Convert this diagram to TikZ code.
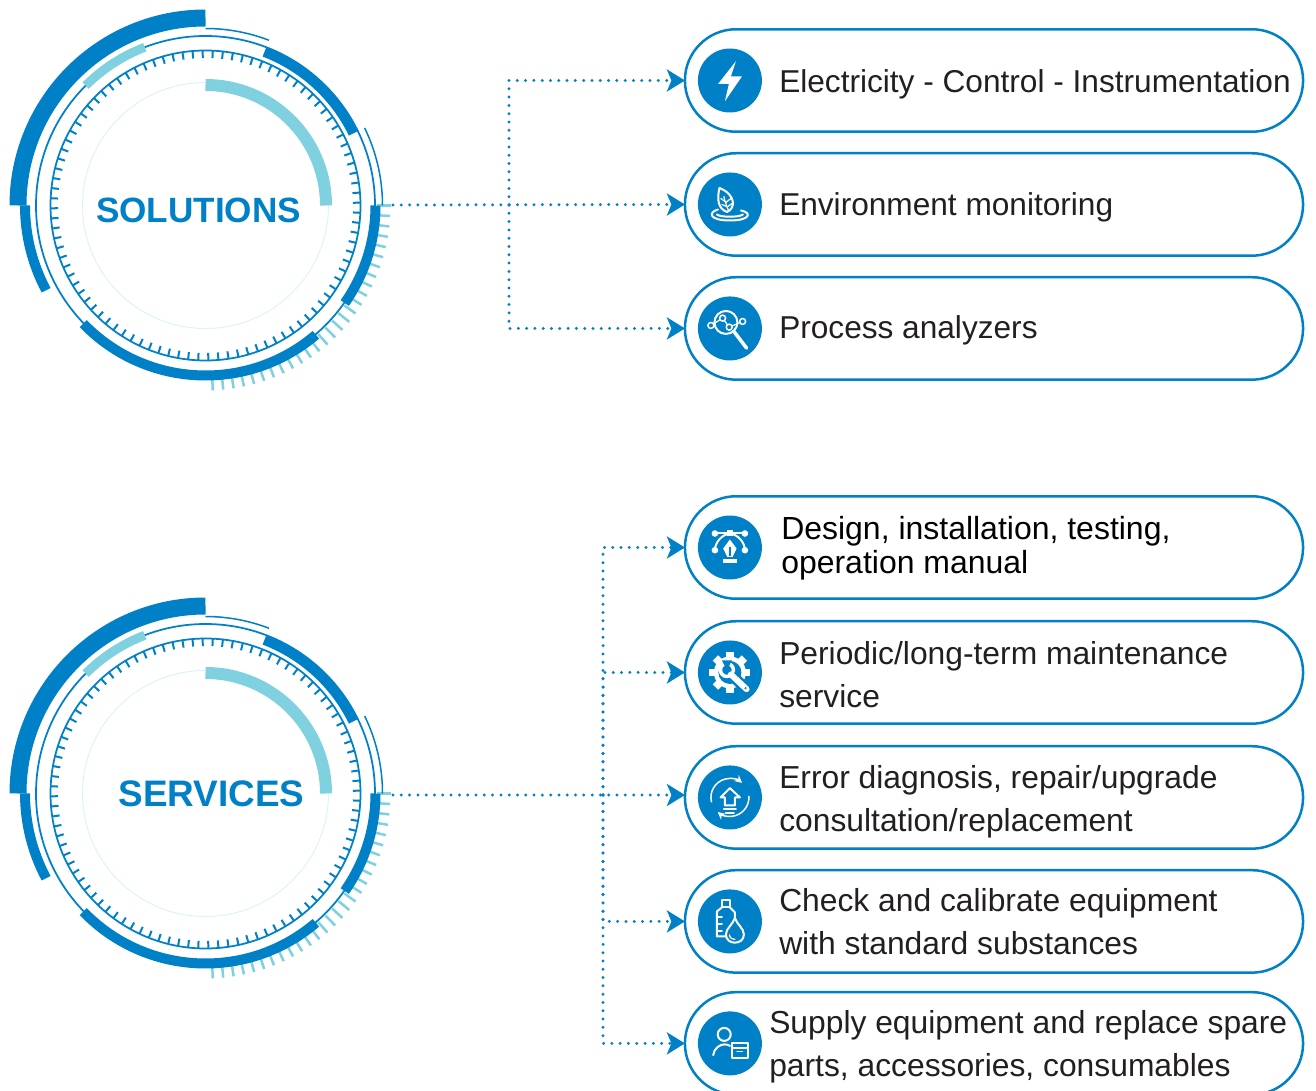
\documentclass[tikz,border=0pt]{standalone}
\usepackage{fontspec}
\setmainfont{Liberation Sans}
\usetikzlibrary{shapes.misc, arrows.meta, positioning}
\definecolor{dialBlue}{HTML}{0080C6}
\definecolor{dialLight}{HTML}{7FD1E0}
\definecolor{dialFaint}{HTML}{DDF3F6}
\definecolor{pillInk}{HTML}{231F20}
\tikzset{
    pill/.style={rounded rectangle, draw=dialBlue, line width=0.05cm, minimum width=12.6cm, minimum height=2.05cm, outer sep=0pt},
    iconDisc/.style={circle, fill=dialBlue, minimum size=1.28cm, inner sep=0pt, outer sep=0pt},
    pillText/.style={inner sep=0pt, align=left, text=pillInk, font=\fontsize{18}{24.5}\selectfont},
    longText/.style={pillText, font=\fontsize{18.1}{24.5}\selectfont},
    dialText/.style={text=dialBlue, font=\bfseries\fontsize{20}{24}\selectfont},
    link/.style={draw=dialBlue, line width=0.065cm, line cap=round, dash pattern=on 0pt off 0.166cm},
    linkTip/.style={link, -{Stealth[length=0.36cm, width=0.44cm, inset=0.09cm]}},
    iconLine/.style={draw=white, line width=0.04cm, line cap=round, line join=round},
    % the round gauge
    dial/.pic={
        \foreach \a in {0,...,27}
            \draw [dialLight, line width=0.05cm] ({-\a*3.25}:171) -- ({-\a*3.25}:185);
        \draw [dialFaint, line width=0.02cm] (0,0) circle (123);
        \draw [dialLight, line width=0.24cm] (0:120.5) arc[start angle=0, end angle=90, radius=120.5];
        \draw [dialBlue, line width=0.035cm] (0,0) circle (155);
        \foreach \a in {0,...,95}
            \draw [dialBlue, line width=0.04cm] ({87.3+\a*3.75}:147.5) -- ({87.3+\a*3.75}:155);
        \draw [dialBlue, line width=0.035cm] (0,0) circle (169.5);
        \draw [dialBlue, line width=0.34cm] (90:187.5) arc[start angle=90, end angle=180, radius=187.5];
        \draw [dialBlue, line width=0.03cm] (90:177) arc[start angle=90, end angle=69, radius=177];
        \draw [dialBlue, line width=0.03cm] (26:177) arc[start angle=26, end angle=0, radius=177];
        \draw [dialBlue, line width=0.2cm] (180:180.5) arc[start angle=180, end angle=208, radius=180.5];
        \draw [dialBlue, line width=0.2cm] (69:164.5) arc[start angle=69, end angle=26, radius=164.5];
        \draw [dialBlue, line width=0.2cm] (0:170) arc[start angle=0, end angle=-35, radius=170];
        \draw [dialBlue, line width=0.2cm] (224:170) arc[start angle=224, end angle=310.5, radius=170];
        \draw [dialLight, line width=0.18cm] (111:169.5) arc[start angle=111, end angle=135, radius=169.5];
    },
    % the small white drawings
    boltIcon/.pic={
        \fill [white] (6,19.3) -- (-11.7,-3.3) -- (-1,-3.3) -- (-5,-20.7) -- (12,4) -- (1,4) -- cycle;
    },
    leafIcon/.pic={
        \draw [iconLine] (-10.5,16.5) .. controls (-13,5) and (-12,-4) .. (-3,-7.5) .. controls (6,-4) and (6,10) .. cycle;
        \draw [iconLine, line width=0.025cm] (-6,8) .. controls (-5,2) and (-3,-2) .. (-1,-7);
        \draw [iconLine, line width=0.025cm] (-4,2) -- (1,6) (-2,-2) -- (2,1) (-5,3) -- (-9,6) (-3.5,-2) -- (-8,0);
        \draw [iconLine] (-12,-5) .. controls (-22,-8) and (-21,-16) .. (0,-16) .. controls (21,-16) and (22,-8) .. (11,-6);
        \draw [iconLine] (-13,-10) .. controls (-10,-13) and (10,-13) .. (13,-10);
    },
    lensIcon/.pic={
        \draw [iconLine] (-4,6) circle (11.5);
        \draw [iconLine, line width=0.07cm] (4,-3) -- (16.7,-19.7);
        \draw [iconLine, line width=0.025cm] (-19,3) -- (-7.3,10.3) -- (-0.7,1.3) -- (12.7,7);
        \foreach \p in {(-19,3),(-7.3,10.3),(-0.7,1.3),(12.7,7)}
            \draw [iconLine, fill=dialBlue, line width=0.03cm] \p circle (3);
    },
    penIcon/.pic={
        \draw [iconLine] (-15,14) -- (15,14);
        \draw [iconLine] (-15,-2.7) .. controls (-15,5) and (-8,13) .. (0,14) .. controls (8,13) and (15,5) .. (15,-2.7);
        \fill [white] (-3,11) rectangle (3,17);
        \foreach \p in {(-15,14),(15,14),(-15,-2.7),(15,-2.7)}
            \fill [white] \p circle (3.3);
        \fill [white] (-6.7,-1) -- (0,8) -- (6.7,-1) -- (2.7,-9.3) -- (-2.7,-9.3) -- cycle;
        \draw [dialBlue, line width=0.025cm] (0,-9) -- (0,0);
        \fill [white] (-7.3,-12) rectangle (7.3,-16);
    },
    gearIcon/.pic={
        \foreach \a in {0,45,...,315}
            \fill [white, rotate=\a] (-3.8,13) rectangle (3.8,20.5);
        \fill [white] (0,0) circle (16);
        \fill [dialBlue] (0,0) circle (11.5);
        \draw [white, line width=0.07cm] (-3,2.5) circle (6.5);
        \draw [dialBlue, line width=0.22cm] (2,-3) -- (16.7,-16.7);
        \draw [white, line width=0.12cm, line cap=round] (1,-2) -- (16.7,-16.7);
        \fill [dialBlue] (-3,2.5) -- (-8,12) -- (2,12) -- cycle;
        \fill [dialBlue] (15.7,-15.7) circle (1.2);
    },
    cycleIcon/.pic={
        \draw [iconLine] (0,9.3) -- (-9.3,0) -- (-5,0) -- (-5,-8) -- (5,-8) -- (5,0) -- (10,0) -- cycle;
        \draw [iconLine] (-6,-11.7) -- (6,-11.7) (-4,-16) -- (4,-16);
        \draw [draw=white, line width=0.03cm, -{Stealth[length=0.15cm, width=0.15cm]}] (195:19) arc[start angle=195, end angle=50, radius=19];
        \draw [draw=white, line width=0.03cm, -{Stealth[length=0.15cm, width=0.15cm]}] (5:19) arc[start angle=5, end angle=-130, radius=19];
    },
    bottleIcon/.pic={
        \draw [iconLine] (-8,21) rectangle (0,14);
        \draw [iconLine] (-1,-15) -- (-13,-15) -- (-13,10) -- (-8,14) (0,14) -- (5,9) -- (5,3);
        \draw [iconLine] (-13,4) -- (-8,4) (-13,-3) -- (-8,-3) (-13,-10) -- (-8,-10);
        \draw [iconLine, fill=dialBlue] (5,3.5) .. controls (3,-3) and (-4,-7) .. (-4,-13) .. controls (-4,-24) and (14,-24) .. (14,-13) .. controls (14,-7) and (7,-3) .. cycle;
        \draw [iconLine, line width=0.025cm] (-0.5,-13.5) .. controls (0,-17) and (3,-18) .. (5,-18);
    },
    keeperIcon/.pic={
        \draw [iconLine] (-5.7,9) circle (6.5);
        \draw [iconLine] (-16.7,-11.7) .. controls (-16,-5) and (-10,-1) .. (-5.7,-1) .. controls (-3,-1) and (-1,-1.5) .. (0,-2.5);
        \draw [iconLine] (1.7,0) rectangle (17.7,-15);
        \draw [iconLine] (1.7,-5) -- (17.7,-5);
        \draw [iconLine, line width=0.025cm] (7,-8) -- (12.5,-8);
    }
}

\begin{document}
\begin{tikzpicture}[x=0.02cm, y=0.02cm]
    \useasboundingbox (0,0) rectangle (1316,1090);
    \clip (0,0) rectangle (1316,1090);

    % Solutions
    \pic at (205.5,884.5) {dial};
    \node [dialText] (solLabel) at (198.5,880) {SOLUTIONS};

    \node [pill] (elecPill) at (994,1009.5) {};
    \node [pill, below=0.43cm of elecPill] (envPill) {};
    \node [pill, below=0.43cm of envPill] (procPill) {};

    \node [iconDisc, right=0.26cm of elecPill.west] (elecIcon) {};
    \node [iconDisc, right=0.26cm of envPill.west] (envIcon) {};
    \node [iconDisc, right=0.26cm of procPill.west] (procIcon) {};
    \pic at (elecIcon) {boltIcon};
    \pic at (envIcon) {leafIcon};
    \pic at (procIcon) {lensIcon};

    \node [pillText, right=0.34cm of elecIcon, yshift=-0.08cm] (elecText) {Electricity - Control - Instrumentation};
    \node [pillText, right=0.34cm of envIcon, yshift=-0.06cm] (envText) {Environment monitoring};
    \node [pillText, right=0.34cm of procIcon, yshift=-0.04cm] (procText) {Process analyzers};

    \coordinate (solStart) at (393,885);
    \coordinate (solBus) at (509,885);
    \draw [linkTip] (solStart) -- (envPill.west);
    \draw [linkTip] (solBus) |- (elecPill.west);
    \draw [linkTip] (solBus) |- (procPill.west);

    % Services
    \pic at (205.5,296.5) {dial};
    \node [dialText, font=\bfseries\fontsize{21}{24}\selectfont] (serLabel) at (211.5,296) {SERVICES};

    \node [pill] (designPill) at (994,542.5) {};
    \node [pill, below=0.45cm of designPill] (gearPill) {};
    \node [pill, below=0.45cm of gearPill] (errPill) {};
    \node [pill, below=0.43cm of errPill] (checkPill) {};
    \node [pill, below=0.39cm of checkPill] (supplyPill) {};

    \node [iconDisc, right=0.26cm of designPill.west] (designIcon) {};
    \node [iconDisc, right=0.26cm of gearPill.west] (gearIcon) {};
    \node [iconDisc, right=0.26cm of errPill.west] (errIcon) {};
    \node [iconDisc, right=0.26cm of checkPill.west] (checkIcon) {};
    \node [iconDisc, right=0.26cm of supplyPill.west] (supplyIcon) {};
    \pic at (designIcon) {penIcon};
    \pic at (gearIcon) {gearIcon};
    \pic at (errIcon) {cycleIcon};
    \pic at (checkIcon) {bottleIcon};
    \pic at (supplyIcon) {keeperIcon};

    \node [pillText, right=0.38cm of designIcon, yshift=-0.02cm, text=black, font=\fontsize{18.2}{19.4}\selectfont] (designText) {Design, installation, testing,\\operation manual};
    \node [longText, right=0.34cm of gearIcon, yshift=-0.04cm] (gearText) {Periodic/long-term maintenance\\service};
    \node [longText, right=0.34cm of errIcon, yshift=-0.08cm] (errText) {Error diagnosis, repair/upgrade\\consultation/replacement};
    \node [longText, right=0.34cm of checkIcon] (checkText) {Check and calibrate equipment\\with standard substances};
    \node [longText, right=0.14cm of supplyIcon, yshift=-0.06cm] (supplyText) {Supply equipment and replace spare\\parts, accessories, consumables};

    \coordinate (serStart) at (393,295);
    \coordinate (serBus) at (603,295);
    \draw [linkTip] (serStart) -- (serStart -| errPill.west);
    \draw [linkTip] (serBus) |- (designPill.west);
    \draw [linkTip] (serBus) |- (gearPill.west);
    \draw [linkTip] (serBus) |- (checkPill.west);
    \draw [linkTip] (serBus) |- (supplyPill.west);

\end{tikzpicture}
\end{document}
